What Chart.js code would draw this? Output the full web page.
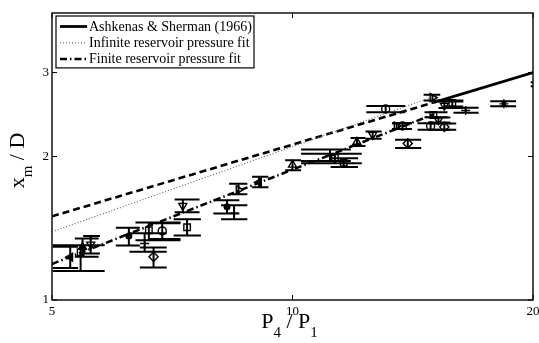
<!DOCTYPE html>
<html>
<head>
<meta charset="utf-8">
<script src="https://cdn.jsdelivr.net/npm/chart.js@4.4.1/dist/chart.umd.min.js"></script>
<style>
  html, body { margin: 0; padding: 0; background: #fff; }
  #wrap { width: 539px; height: 343px; position: relative; }
</style>
</head>
<body>
<div id="wrap"><canvas id="c" width="539" height="343"></canvas></div>
<script>
// Measured runs: pressure ratio P4/P1 and Mach disk location x_m/D
const runSeries    = ['lfF','upF','sq','dn','dot','plus','sq','o','dia','dn','sq','dot','plus','rt','lfF','up','plus','sq','sq','up','dn','o','rt','o','dia','rt','dn','sq','plus','star','sq','dn','o','dia','dot'];
const pressureRatio = [5.27,5.46,5.43,5.59,6.24,6.53,6.61,6.87,6.70,7.29,7.38,8.28,8.45,8.56,9.08,10.00,11.14,11.30,11.59,12.04,12.60,13.08,13.50,13.73,13.94,14.97,15.49,15.85,16.47,18.39,15.01,15.23,14.89,15.49,20.64];
const machDisk      = [1.230,1.291,1.260,1.308,1.363,1.314,1.401,1.396,1.232,1.577,1.421,1.569,1.521,1.703,1.766,1.921,2.011,1.987,1.941,2.146,2.222,2.516,2.318,2.318,2.130,2.659,2.558,2.589,2.497,2.579,2.444,2.386,2.318,2.307,2.838];
const machDiskLow   = [1.167,1.232,1.150,1.252,1.301,1.262,1.335,1.342,1.170,1.528,1.366,1.518,1.477,1.666,1.724,1.871,1.958,1.935,1.901,2.103,2.179,2.477,2.285,2.285,2.085,2.621,2.528,2.546,2.470,2.550,2.418,2.357,2.276,2.276,2.808];
const machDiskHigh  = [1.294,1.346,1.303,1.363,1.417,1.381,1.454,1.449,1.289,1.624,1.477,1.619,1.580,1.753,1.813,1.963,2.070,2.027,1.982,2.186,2.257,2.552,2.349,2.349,2.169,2.694,2.608,2.621,2.530,2.612,2.477,2.415,2.349,2.346,2.862];
const ratioLow      = [5.01,5.34,5.01,5.47,6.01,6.25,6.36,6.62,6.44,7.12,7.10,7.96,8.14,8.33,8.90,9.79,10.25,10.25,11.16,11.82,12.34,12.37,13.32,13.32,13.44,14.59,15.23,15.45,15.90,17.68,14.63,14.80,14.34,14.80,19.87];
const ratioHigh     = [5.39,5.72,5.82,5.74,6.44,6.96,7.24,7.24,6.96,7.65,7.68,8.58,8.78,8.78,9.33,10.25,11.83,12.21,12.08,12.34,12.93,13.84,14.10,14.10,14.49,15.31,16.36,16.36,17.10,19.05,15.63,15.76,15.76,16.03,21.45];

// Correlation curves (end points)
const ashkenasX      = [15, 20];
const ashkenasY      = [2.595, 3.0];
const ashkenasExtX   = [5, 15];
const ashkenasExtY   = [1.498, 2.595];
const infiniteFitX   = [5, 15];
const infiniteFitY   = [1.39, 2.67];
const finiteFitX     = [5, 15];
const finiteFitY     = [1.19, 2.45];

const xTicks = [5, 10, 20];
const yTicks = [1, 2, 3];

const SERIF = '"Liberation Serif", "Times New Roman", serif';

const pairs = (xs, ys) => xs.map((v, i) => ({ x: v, y: ys[i] }));

const markerLook = {
  o:    { pointStyle: 'circle',   rotation: 0,   radius: 4,   fill: false },
  sq:   { pointStyle: 'rect',     rotation: 0,   radius: 4.6, fill: false },
  up:   { pointStyle: 'triangle', rotation: 0,   radius: 4.6, fill: false },
  upF:  { pointStyle: 'triangle', rotation: 0,   radius: 4.6, fill: true  },
  dn:   { pointStyle: 'triangle', rotation: 180, radius: 4.6, fill: false },
  rt:   { pointStyle: 'triangle', rotation: 90,  radius: 4.6, fill: false },
  lfF:  { pointStyle: 'triangle', rotation: 270, radius: 4.6, fill: true  },
  dia:  { pointStyle: 'rectRot',  rotation: 0,   radius: 4.6, fill: false },
  plus: { pointStyle: 'cross',    rotation: 0,   radius: 4.5, fill: false },
  star: { pointStyle: 'star',     rotation: 0,   radius: 4.5, fill: false },
  dot:  { pointStyle: 'circle',   rotation: 0,   radius: 2.8, fill: true  }
};

const lineSets = [
  { label: 'Ashkenas & Sherman (1966)', data: pairs(ashkenasX, ashkenasY),
    borderColor: '#000', borderWidth: 2.8, borderDash: [], inLegend: true },
  { label: 'Infinite reservoir pressure fit', data: pairs(infiniteFitX, infiniteFitY),
    borderColor: '#707070', borderWidth: 1.3, borderDash: [1, 2], inLegend: true },
  { label: 'Finite reservoir pressure fit', data: pairs(finiteFitX, finiteFitY),
    borderColor: '#000', borderWidth: 2.5, borderDash: [7, 3, 1.5, 3], inLegend: true },
  { label: 'Ashkenas & Sherman, extrapolated', data: pairs(ashkenasExtX, ashkenasExtY),
    borderColor: '#000', borderWidth: 2.6, borderDash: [7, 4], inLegend: false }
].map(d => Object.assign({ type: 'line', pointRadius: 0, fill: false, tension: 0 }, d));

const pointSets = Object.keys(markerLook).map(key => {
  const m = markerLook[key];
  const idx = runSeries.map((s, i) => s === key ? i : -1).filter(i => i >= 0);
  return {
    type: 'scatter', label: key, inLegend: false,
    data: idx.map(i => ({ x: pressureRatio[i], y: machDisk[i] })),
    pointStyle: m.pointStyle, rotation: m.rotation, pointRadius: m.radius,
    borderColor: '#000', borderWidth: 1.4,
    backgroundColor: m.fill ? '#000' : 'rgba(0,0,0,0)'
  };
}).filter(d => d.data.length);

// vertical error bars with wide caps, clipped to the axes
const errorBars = {
  id: 'errorBars',
  beforeDatasetsDraw(chart) {
    const { ctx, chartArea: a, scales: { x, y } } = chart;
    ctx.save();
    ctx.beginPath();
    ctx.rect(a.left, a.top, a.right - a.left, a.bottom - a.top);
    ctx.clip();
    ctx.strokeStyle = '#000';
    ctx.lineWidth = 2;
    ctx.lineCap = 'butt';
    for (let i = 0; i < pressureRatio.length; i++) {
      const px = x.getPixelForValue(pressureRatio[i]);
      const yt = y.getPixelForValue(machDiskHigh[i]);
      const yb = y.getPixelForValue(machDiskLow[i]);
      const xl = x.getPixelForValue(ratioLow[i]);
      const xr = x.getPixelForValue(ratioHigh[i]);
      ctx.beginPath();
      ctx.moveTo(px, yt); ctx.lineTo(px, yb);
      ctx.moveTo(xl, yt); ctx.lineTo(xr, yt);
      ctx.moveTo(xl, yb); ctx.lineTo(xr, yb);
      ctx.stroke();
    }
    ctx.restore();
  }
};

function richWidth(ctx, parts, big, small) {
  let w = 0;
  for (const p of parts) {
    ctx.font = (p[1] ? small : big) + 'px ' + SERIF;
    w += ctx.measureText(p[0]).width;
  }
  return w;
}
function drawRich(ctx, parts, big, small, drop) {
  let cx = -richWidth(ctx, parts, big, small) / 2;
  ctx.textAlign = 'left';
  ctx.textBaseline = 'alphabetic';
  for (const p of parts) {
    ctx.font = (p[1] ? small : big) + 'px ' + SERIF;
    ctx.fillText(p[0], cx, p[1] ? drop : 0);
    cx += ctx.measureText(p[0]).width;
  }
}

// box, inward ticks, tick labels, axis titles and legend
const axesFrame = {
  id: 'axesFrame',
  afterDatasetsDraw(chart) {
    const { ctx, chartArea: a, scales: { x, y } } = chart;
    ctx.save();
    ctx.strokeStyle = '#000';
    ctx.fillStyle = '#000';
    ctx.lineWidth = 1.4;
    ctx.strokeRect(a.left, a.top, a.right - a.left, a.bottom - a.top);
    const tl = 5;
    ctx.beginPath();
    for (const v of xTicks) {
      const px = x.getPixelForValue(v);
      ctx.moveTo(px, a.bottom); ctx.lineTo(px, a.bottom - tl);
      ctx.moveTo(px, a.top); ctx.lineTo(px, a.top + tl);
    }
    for (const v of yTicks) {
      const py = y.getPixelForValue(v);
      ctx.moveTo(a.left, py); ctx.lineTo(a.left + tl, py);
      ctx.moveTo(a.right, py); ctx.lineTo(a.right - tl, py);
    }
    ctx.lineWidth = 1;
    ctx.stroke();

    ctx.font = '13px ' + SERIF;
    ctx.textAlign = 'center';
    ctx.textBaseline = 'middle';
    for (const v of xTicks) ctx.fillText(String(v), x.getPixelForValue(v), a.bottom + 12);
    ctx.textAlign = 'right';
    for (const v of yTicks) ctx.fillText(String(v), a.left - 3, y.getPixelForValue(v));

    // x title
    ctx.save();
    ctx.translate((a.left + a.right) / 2 - 3, a.bottom + 28);
    drawRich(ctx, [['P', 0], ['4', 1], [' / P', 0], ['1', 1]], 22, 15, 9);
    ctx.restore();
    // y title
    ctx.save();
    ctx.translate(a.left - 28, (a.top + a.bottom) / 2 + 4);
    ctx.rotate(-Math.PI / 2);
    drawRich(ctx, [['x', 0], ['m', 1], [' / D', 0]], 22, 15, 8);
    ctx.restore();

    // legend
    const entries = chart.data.datasets.filter(d => d.inLegend);
    const lx = a.left + 4, ly = a.top + 3, lw = 198, rowH = 16.3;
    const lh = entries.length * rowH + 3;
    ctx.fillStyle = '#fff';
    ctx.fillRect(lx, ly, lw, lh);
    ctx.lineWidth = 1.2;
    ctx.strokeStyle = '#000';
    ctx.strokeRect(lx, ly, lw, lh);
    ctx.font = '14px ' + SERIF;
    ctx.textAlign = 'left';
    ctx.textBaseline = 'middle';
    entries.forEach((d, k) => {
      const ry = ly + 10.5 + k * rowH;
      ctx.save();
      ctx.strokeStyle = d.borderColor;
      ctx.lineWidth = d.borderWidth;
      ctx.setLineDash(d.borderDash || []);
      ctx.beginPath();
      ctx.moveTo(lx + 4, ry); ctx.lineTo(lx + 31, ry);
      ctx.stroke();
      ctx.restore();
      ctx.fillStyle = '#000';
      ctx.fillText(d.label, lx + 33, ry + 0.5);
    });
    ctx.restore();
  }
};

new Chart(document.getElementById('c'), {
  data: { datasets: [...pointSets, ...lineSets] },
  options: {
    responsive: false,
    animation: false,
    devicePixelRatio: 1,
    layout: { padding: { left: 52, right: 4, top: 13, bottom: 43 } },
    plugins: { legend: { display: false }, tooltip: { enabled: false } },
    scales: {
      x: { type: 'logarithmic', min: 5, max: 20, display: false },
      y: { type: 'logarithmic', min: 1, max: 4, display: false }
    }
  },
  plugins: [errorBars, axesFrame]
});
</script>
</body>
</html>
